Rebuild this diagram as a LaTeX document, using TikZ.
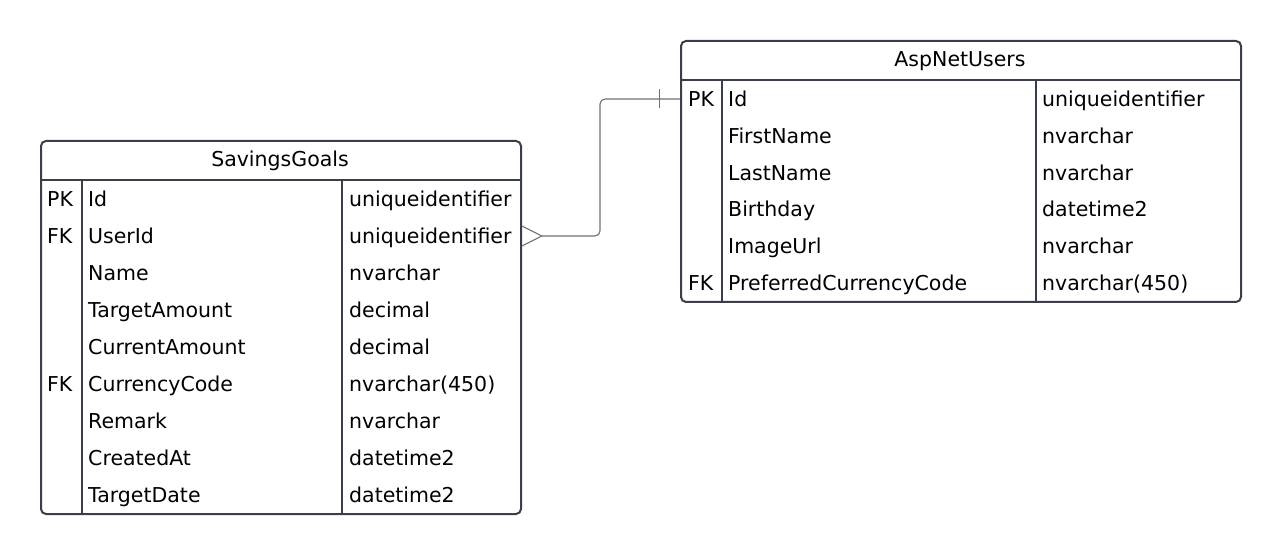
\documentclass[tikz,border=0pt]{standalone}
\usepackage{fontspec}
\setmainfont{DejaVu Sans}
\definecolor{bordercol}{RGB}{58,62,72}
\definecolor{relcol}{RGB}{110,112,118}
\begin{document}
\begin{tikzpicture}[x=1pt,y=-1pt,
  frame/.style={draw=bordercol, line width=2pt, rounded corners=5pt, fill=white, inner sep=0pt},
  gridline/.style={draw=bordercol, line width=2pt},
  txt/.style={anchor=base west, inner sep=0pt, font=\fontsize{20.5}{24}\selectfont},
  hdr/.style={anchor=base, inner sep=0pt, font=\fontsize{20.5}{24}\selectfont},
  rel/.style={draw=relcol, line width=1.1pt}]
\useasboundingbox (0,0) rectangle (1280,553);

% ---------- SavingsGoals ----------
\node[frame, minimum width=480pt, minimum height=373pt, anchor=north west] (sg) at (40,140) {};
\draw[gridline] (40,180) -- (520,180);
\draw[gridline] (82,180) -- (82,513);
\draw[gridline] (342,180) -- (342,513);
\node[hdr] (sgh) at (280,167) {SavingsGoals};
\foreach \k/\n/\t [count=\i] in {PK/Id/uniqueidentifier, FK/UserId/uniqueidentifier, /Name/nvarchar, /TargetAmount/decimal, /CurrentAmount/decimal, FK/CurrencyCode/nvarchar(450), /Remark/nvarchar, /CreatedAt/datetime2, /TargetDate/datetime2} {
  \node[txt] (sgk\i) at (47,{180+37*\i-10.5}) {\k};
  \node[txt] (sgn\i) at (88,{180+37*\i-10.5}) {\n};
  \node[txt] (sgt\i) at (349,{180+37*\i-10.5}) {\t};
}

% ---------- AspNetUsers ----------
\node[frame, minimum width=560pt, minimum height=261pt, anchor=north west] (au) at (680,40) {};
\draw[gridline] (680,80) -- (1240,80);
\draw[gridline] (722,80) -- (722,301);
\draw[gridline] (1036,80) -- (1036,301);
\node[hdr] (auh) at (960,67) {AspNetUsers};
\foreach \k/\n/\t [count=\i] in {PK/Id/uniqueidentifier, /FirstName/nvarchar, /LastName/nvarchar, /Birthday/datetime2, /ImageUrl/nvarchar, FK/PreferredCurrencyCode/nvarchar(450)} {
  \node[txt] (auk\i) at (688,{80+36.83*\i-10.33}) {\k};
  \node[txt] (aun\i) at (728,{80+36.83*\i-10.33}) {\n};
  \node[txt] (aut\i) at (1042,{80+36.83*\i-10.33}) {\t};
}

% ---------- relation ----------
\coordinate (many) at (sg.east |- 0,236);
\coordinate (one) at (au.west |- 0,99);
\coordinate (tip) at (541.7,236);
\draw[rel] ([yshift=10pt]many) -- (tip) -- ([yshift=-10pt]many);
\draw[rel, rounded corners=5pt] (tip) -- (600,236) -- (600,99) -- (one);
\draw[rel] (659.3,89) -- (659.3,108);
\end{tikzpicture}
\end{document}
